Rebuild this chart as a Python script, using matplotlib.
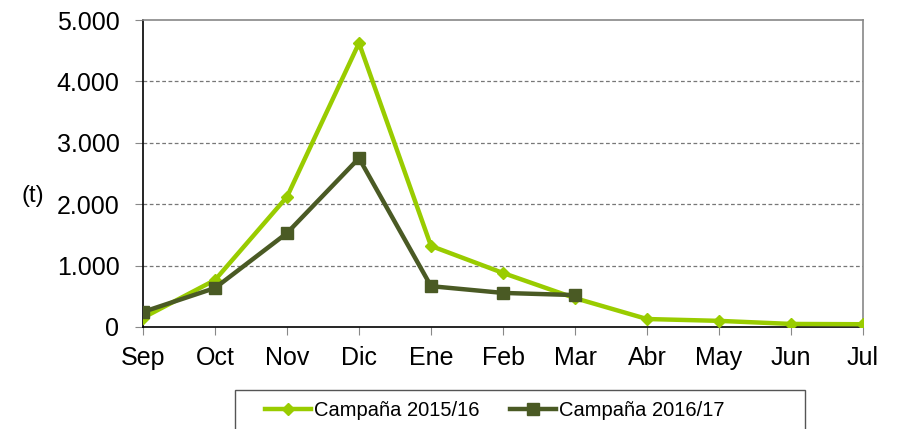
import matplotlib
matplotlib.use("Agg")
import matplotlib.pyplot as plt
from matplotlib.patches import Rectangle
from matplotlib.ticker import FuncFormatter

plt.rcParams['font.family'] = ['Liberation Sans', 'DejaVu Sans']

months = ["Sep", "Oct", "Nov", "Dic", "Ene", "Feb", "Mar", "Abr", "May", "Jun", "Jul"]
camp_1516 = [150, 765, 2120, 4625, 1320, 880, 470, 130, 100, 50, 45]
camp_1617 = [245, 635, 1530, 2750, 665, 555, 520]

green = "#99CC00"
dark = "#4A5A24"

fig = plt.figure(figsize=(8.97, 4.29), dpi=100)
ax = fig.add_axes([143/897, 1 - 327/429, 720/897, 307/429])

x1 = range(len(camp_1516))
x2 = range(len(camp_1617))
ax.plot(x1, camp_1516, color=green, lw=3.2, marker="D", ms=6.5,
        label="Campaña 2015/16", zorder=3)
ax.plot(x2, camp_1617, color=dark, lw=3.2, marker="s", ms=8,
        label="Campaña 2016/17", zorder=4)

ax.set_xlim(0, len(months) - 1)
ax.set_ylim(0, 5000)
ax.set_xticks(list(x1))
ax.set_xticklabels(months)
ax.set_yticks(range(0, 5001, 1000))
ax.yaxis.set_major_formatter(FuncFormatter(lambda v, p: f"{int(v):,}".replace(",", ".")))
ax.tick_params(axis="both", labelsize=18, direction="out", length=6,
               color="#888888")
ax.tick_params(axis="y", pad=11)
ax.tick_params(axis="x", pad=8)

for v in range(1000, 5000, 1000):
    ax.axhline(v, color="#777777", lw=0.9, ls=(0, (3, 2)), zorder=1)

ax.spines["left"].set_color("black")
ax.spines["bottom"].set_color("black")
ax.spines["top"].set_color("#888888")
ax.spines["right"].set_color("#888888")
for s in ax.spines.values():
    s.set_linewidth(1.2)

fig.text(33/897, 1 - 196/429, "(t)", fontsize=17, ha="center", va="center")

# legend box, cut by the bottom edge like in the original
fig.patches.append(Rectangle((235/897, -0.05), 570/897, 0.05 + 1 - 390/429,
                             transform=fig.transFigure, fill=False,
                             edgecolor="#555555", lw=1.0))
leg = fig.legend(loc="center", bbox_to_anchor=(495/897, 1 - 411/429),
                 ncol=2, fontsize=14.5, frameon=False,
                 handlelength=2.3, handletextpad=0.15,
                 columnspacing=1.5, borderaxespad=0)

fig.savefig("out.png", dpi=100)
